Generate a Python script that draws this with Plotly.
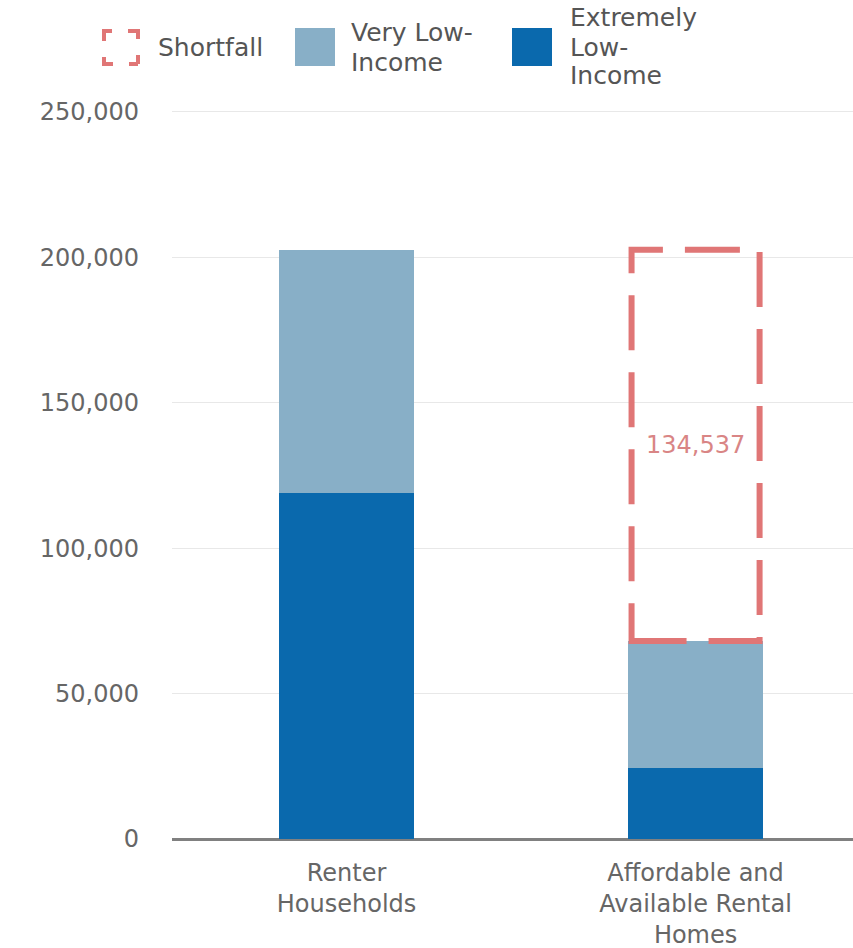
import plotly.graph_objects as go

categories = ["Renter<br>Households", "Affordable and<br>Available Rental<br>Homes"]
extremely_low = [119000, 24400]
very_low = [83600, 43700]
shortfall = 134537
shortfall_label = "134,537"
y_ticks = [0, 50000, 100000, 150000, 200000, 250000]
y_tick_text = ["0", "50,000", "100,000", "150,000", "200,000", "250,000"]

C_ELI = "#0a69ad"
C_VLI = "#88afc7"
C_SHORT = "#e07676"
FONT = "DejaVu Sans"
GRAY = "#666666"

W, H = 853, 948
L, R, T, B = 172, 0, 109, 109
Y_MAX = 251000


def px(X):
    return (X - L) / (W - L - R)


def py(Y):
    return (H - B - Y) / (H - T - B)


fig = go.Figure()
fig.add_trace(go.Bar(x=[0, 1], y=extremely_low, marker=dict(color=C_ELI, line=dict(width=0)),
                     name="Extremely Low-Income", showlegend=False))
fig.add_trace(go.Bar(x=[0, 1], y=very_low, marker=dict(color=C_VLI, line=dict(width=0)),
                     name="Very Low-Income", showlegend=False))

afford_total = extremely_low[1] + very_low[1]
half = 0.1834
fig.add_shape(type="rect", xref="x", yref="y", x0=1 - half, x1=1 + half,
              y0=afford_total, y1=afford_total + shortfall,
              line=dict(color=C_SHORT, width=6, dash="55px,22px"), fillcolor="rgba(0,0,0,0)", layer="above")
fig.add_annotation(x=1, y=afford_total + shortfall / 2, xref="x", yref="y", text=shortfall_label,
                   showarrow=False, font=dict(family=FONT, size=24, color="#d98585"))

# Legend (drawn manually)
fig.add_shape(type="rect", xref="paper", yref="paper", x0=px(104), x1=px(138), y0=py(64), y1=py(31),
              line=dict(color=C_SHORT, width=4, dash="9px,16px,9px,0px"), fillcolor="rgba(0,0,0,0)")
fig.add_shape(type="rect", xref="paper", yref="paper", x0=px(295), x1=px(335), y0=py(66), y1=py(28),
              line=dict(width=0), fillcolor=C_VLI)
fig.add_shape(type="rect", xref="paper", yref="paper", x0=px(512), x1=px(552), y0=py(66), y1=py(28),
              line=dict(width=0), fillcolor=C_ELI)

legend_text = [
    ("Shortfall", 156, 47),
    ("Very Low-", 349, 33),
    ("Income", 349, 62),
    ("Extremely", 568, 18),
    ("Low-", 568, 47),
    ("Income", 568, 76),
]
for txt, X, Y in legend_text:
    fig.add_annotation(x=px(X), y=py(Y), xref="paper", yref="paper", text=txt, showarrow=False,
                       xanchor="left", yanchor="middle", font=dict(family=FONT, size=25, color="#555555"))

fig.update_layout(
    width=W, height=H,
    margin=dict(l=L, r=R, t=T, b=B),
    plot_bgcolor="white", paper_bgcolor="white",
    barmode="stack", bargap=0.613,
    showlegend=False,
    font=dict(family=FONT, size=25, color=GRAY),
)
fig.update_xaxes(
    tickmode="array", tickvals=[0, 1], ticktext=categories,
    range=[-0.5, 1.451], showgrid=False, zeroline=False,
    showline=False, ticks="", ticklabelstandoff=17,
    tickfont=dict(family=FONT, size=24, color=GRAY),
    fixedrange=True,
)
fig.update_yaxes(
    range=[0, Y_MAX], tickmode="array", tickvals=y_ticks, ticktext=y_tick_text,
    showgrid=True, gridcolor="#e8e8e8", gridwidth=1,
    zeroline=True, zerolinecolor="#808080", zerolinewidth=3,
    showline=False, ticks="", ticklabelstandoff=32,
    tickfont=dict(family=FONT, size=24, color=GRAY), fixedrange=True,
)

fig.write_html("out.html")
